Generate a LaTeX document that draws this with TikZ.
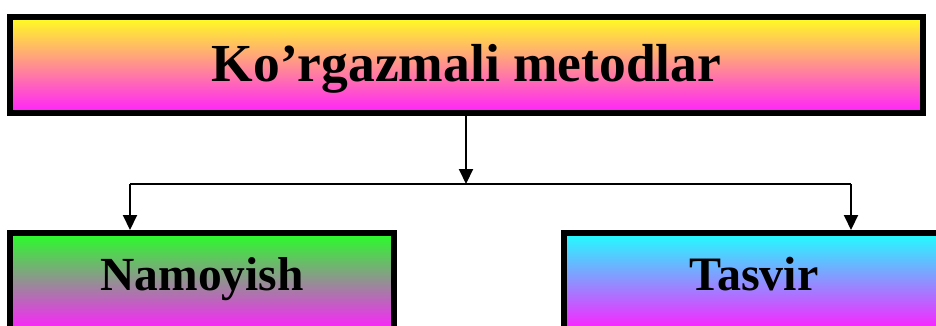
\documentclass[tikz,border=0pt]{standalone}
\usepackage{fontspec}
\setmainfont{Liberation Serif}
\usetikzlibrary{arrows.meta}
\begin{document}
\begin{tikzpicture}[x=1pt,y=-1pt,
  box/.style={draw=black, line width=6pt, rectangle, inner sep=0pt, font=\bfseries},
  conn/.style={line width=2pt, -{Triangle[width=14pt,length=15pt]}},
  line/.style={line width=2pt}]
\useasboundingbox (0,0) rectangle (936,325);
\clip (0,0) rectangle (936,325);
\node[box, anchor=north, minimum width=913pt, text height=64pt, text depth=32pt,
  top color={rgb,255:red,255;green,255;blue,32}, bottom color={rgb,255:red,255;green,32;blue,255},
  font=\bfseries\fontsize{53.5}{58}\selectfont] (top) at (466.5,14) {Ko’rgazmali metodlar};
\node[box, anchor=north, minimum width=384pt, text height=57pt, text depth=40pt,
  top color={rgb,255:red,40;green,255;blue,40}, bottom color={rgb,255:red,255;green,32;blue,255},
  font=\bfseries\fontsize{47.5}{52}\selectfont] (nam) at (202,230) {Namoyish};
\node[box, anchor=north, minimum width=380pt, text height=57pt, text depth=40pt,
  top color={rgb,255:red,32;green,255;blue,255}, bottom color={rgb,255:red,255;green,32;blue,255},
  font=\bfseries\fontsize{48}{52}\selectfont] (tas) at (754,230) {Tasvir};
\coordinate (j) at (466,184);
\coordinate (jl) at (130,184);
\coordinate (jr) at (851,184);
\draw[conn] (top.south -| j) -- (j);
\draw[line] (jl) -- (jr);
\draw[conn] (jl) -- (jl |- nam.north);
\draw[conn] (jr) -- (jr |- tas.north);
\end{tikzpicture}
\end{document}
